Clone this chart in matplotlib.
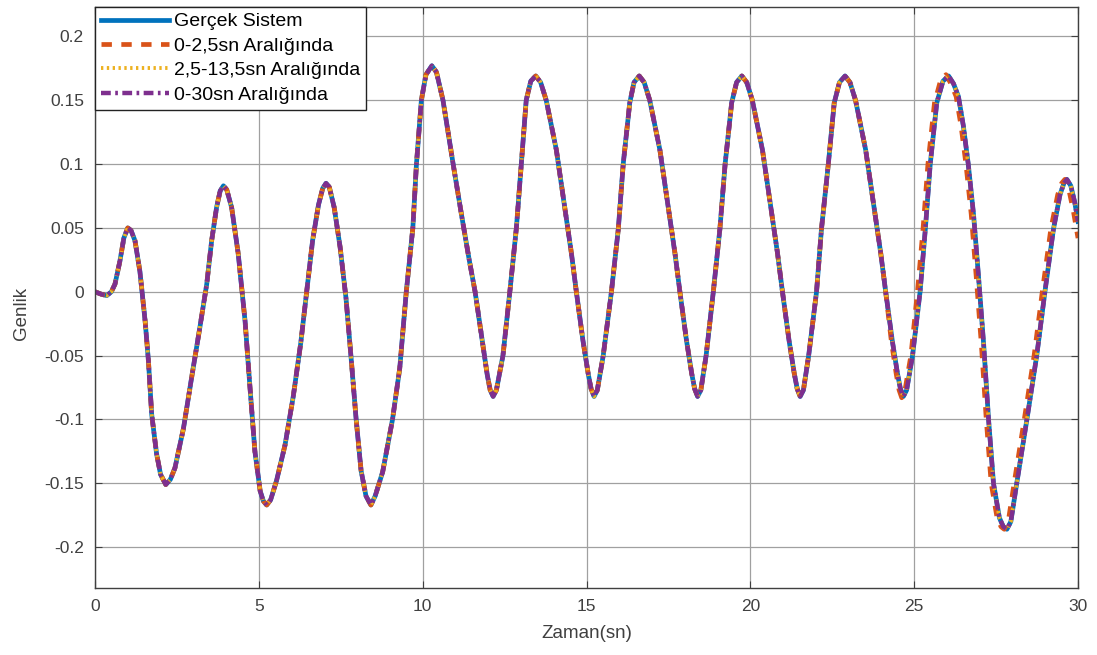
import matplotlib.pyplot as plt

plt.rcParams["font.family"] = ["Liberation Sans", "DejaVu Sans"]
plt.rcParams["axes.unicode_minus"] = False

# measured response of the real system
real_t = [
    0.0, 0.2, 0.36, 0.5, 0.61, 0.76, 0.88, 1.0, 1.1, 1.22, 1.37, 1.53, 1.63,
    1.73, 1.88, 2.0, 2.16, 2.3, 2.44, 2.70, 2.95, 3.20, 3.41, 3.56, 3.71, 3.82,
    3.92, 4.02, 4.17, 4.37, 4.58, 4.73, 4.88, 5.04, 5.14, 5.24, 5.36, 5.54,
    5.80, 6.05, 6.28, 6.46, 6.64, 6.82, 6.95, 7.05, 7.15, 7.30, 7.48, 7.66,
    7.81, 7.97, 8.12, 8.27, 8.42, 8.55, 8.78, 8.95, 9.08, 9.30, 9.50, 9.70,
    9.81, 9.96, 10.1, 10.28, 10.42, 10.62, 10.93, 11.2, 11.42, 11.6, 11.8,
    11.97, 12.06, 12.15, 12.25, 12.45, 12.66, 12.86, 13.01, 13.16, 13.3,
    13.45, 13.6, 13.77, 14.08, 14.33, 14.54, 14.69, 14.89, 15.05, 15.14,
    15.23, 15.33, 15.51, 15.76, 15.97, 16.12, 16.32, 16.45, 16.61, 16.76,
    16.93, 17.24, 17.49, 17.70, 17.85, 18.05, 18.21, 18.30, 18.39, 18.49,
    18.65, 18.87, 19.07, 19.23, 19.43, 19.58, 19.74, 19.89, 20.06, 20.37,
    20.62, 20.83, 20.98, 21.18, 21.34, 21.43, 21.52, 21.62, 21.78, 22.02,
    22.17, 22.38, 22.56, 22.72, 22.89, 23.04, 23.21, 23.52, 23.77, 23.98,
    24.13, 24.33, 24.49, 24.58, 24.67, 24.77, 24.95, 25.18, 25.34, 25.49,
    25.69, 25.88, 26.05, 26.2, 26.35, 26.5, 26.65, 26.81, 26.96, 27.12,
    27.27, 27.42, 27.6, 27.72, 27.83, 27.95, 28.13, 28.44, 28.74, 28.99,
    29.25, 29.45, 29.57, 29.66, 29.78, 29.9, 30.0,
]
real_y = [
    0.0, -0.002, -0.003, 0.0, 0.006, 0.024, 0.042, 0.050, 0.048, 0.040,
    0.016, -0.023, -0.054, -0.096, -0.127, -0.143, -0.151, -0.147, -0.138,
    -0.107, -0.067, -0.028, 0.006, 0.040, 0.066, 0.079, 0.083, 0.080, 0.066,
    0.030, -0.023, -0.075, -0.125, -0.156, -0.164, -0.167, -0.163, -0.148,
    -0.120, -0.082, -0.040, 0.000, 0.040, 0.068, 0.081, 0.085, 0.082, 0.066,
    0.035, -0.005, -0.050, -0.100, -0.140, -0.160, -0.167, -0.160, -0.141,
    -0.118, -0.100, -0.060, 0.000, 0.050, 0.100, 0.150, 0.170, 0.177, 0.172,
    0.150, 0.100, 0.058, 0.025, 0.000, -0.035, -0.065, -0.077, -0.082,
    -0.077, -0.050, 0.000, 0.050, 0.100, 0.150, 0.165, 0.169, 0.164, 0.150,
    0.111, 0.067, 0.030, 0.000, -0.038, -0.064, -0.076, -0.082, -0.077,
    -0.050, 0.000, 0.049, 0.100, 0.148, 0.164, 0.169, 0.164, 0.150, 0.111,
    0.067, 0.030, 0.000, -0.038, -0.064, -0.076, -0.082, -0.077, -0.050,
    0.000, 0.049, 0.100, 0.148, 0.164, 0.169, 0.164, 0.150, 0.111, 0.067,
    0.030, 0.000, -0.038, -0.064, -0.076, -0.082, -0.077, -0.050, 0.000,
    0.049, 0.100, 0.148, 0.164, 0.169, 0.164, 0.150, 0.111, 0.067, 0.030,
    0.000, -0.038, -0.064, -0.076, -0.082, -0.077, -0.050, 0.000, 0.049,
    0.100, 0.148, 0.165, 0.169, 0.163, 0.153, 0.130, 0.100, 0.061, 0.013,
    -0.041, -0.100, -0.150, -0.177, -0.184, -0.186, -0.180, -0.150, -0.100,
    -0.050, 0.000, 0.049, 0.076, 0.085, 0.088, 0.083, 0.070, 0.055,
]

# model identified on 0-2.5 s: follows the system until ~24 s, then leads a bit
early_tail_t = [
    24.30, 24.45, 24.54, 24.62, 24.72, 24.9, 25.1, 25.27, 25.42, 25.62,
    25.8, 25.97, 26.12, 26.28, 26.43, 26.58, 26.74, 26.89, 27.05, 27.2,
    27.35, 27.53, 27.65, 27.75, 27.87, 28.05, 28.36, 28.66, 28.91, 29.17,
    29.38, 29.50, 29.6, 29.72, 29.86, 30.0,
]
early_tail_y = [
    -0.038, -0.064, -0.077, -0.083, -0.077, -0.050, 0.000, 0.049, 0.100,
    0.148, 0.165, 0.170, 0.163, 0.153, 0.130, 0.100, 0.061, 0.013, -0.041,
    -0.100, -0.150, -0.177, -0.184, -0.186, -0.180, -0.150, -0.100, -0.050,
    0.000, 0.049, 0.076, 0.085, 0.088, 0.080, 0.063, 0.042,
]

# models identified on 2.5-13.5 s and 0-30 s overlap the real system
mid_t, mid_y = real_t, real_y
full_t, full_y = real_t, real_y

y_ticks = [-0.2, -0.15, -0.1, -0.05, 0, 0.05, 0.1, 0.15, 0.2]
y_tick_labels = ["-0.2", "-0.15", "-0.1", "-0.05", "0", "0.05", "0.1", "0.15", "0.2"]
x_ticks = [0, 5, 10, 15, 20, 25, 30]


def main():
    n_head = sum(1 for t in real_t if t < 24.30)
    early_t = real_t[:n_head] + early_tail_t
    early_y = real_y[:n_head] + early_tail_y

    fig = plt.figure(figsize=(10.97, 6.55), dpi=100)
    ax = fig.add_axes([0.0866, 0.1023, 0.8961, 0.887])

    ax.plot(real_t, real_y, color="#0072BD", linewidth=3.4, label="Gerçek Sistem")
    ax.plot(early_t, early_y, color="#D95319", linewidth=3.4,
            linestyle=(0, (2.2, 2.0)), label="0-2,5sn Aralığında")
    ax.plot(mid_t, mid_y, color="#EDB120", linewidth=2.8,
            linestyle=(0, (0.6, 0.9)), label="2,5-13,5sn Aralığında")
    ax.plot(full_t, full_y, color="#7E2F8E", linewidth=3.2,
            linestyle=(0, (2.2, 1.0, 0.6, 1.0)), label="0-30sn Aralığında")

    ax.set_xlim(0, 30)
    ax.set_ylim(-0.232, 0.223)
    ax.set_xticks(x_ticks)
    ax.set_yticks(y_ticks)
    ax.set_yticklabels(y_tick_labels)
    ax.tick_params(direction="in", length=5, width=0.8, top=True, right=True,
                   labelsize=12.5, labelcolor="#404040", colors="#404040", pad=8)
    ax.grid(True, color="#a0a0a0", linewidth=0.9)
    ax.set_axisbelow(True)
    for spine in ax.spines.values():
        spine.set_color("#404040")
        spine.set_linewidth(1.0)

    ax.set_xlabel("Zaman(sn)", fontsize=13.5, color="#404040", labelpad=8)
    ax.set_ylabel("Genlik", fontsize=13.5, color="#404040")
    ax.yaxis.set_label_coords(-0.066, 0.473)

    leg = ax.legend(loc="upper left", fontsize=14, handlelength=3.5,
                    borderaxespad=0, fancybox=False, framealpha=1,
                    edgecolor="#222222", borderpad=0.3, labelspacing=0.35,
                    handletextpad=0.25)
    leg.get_frame().set_linewidth(1.0)

    fig.savefig("out.png", dpi=100)
    plt.close(fig)


if __name__ == "__main__":
    main()
